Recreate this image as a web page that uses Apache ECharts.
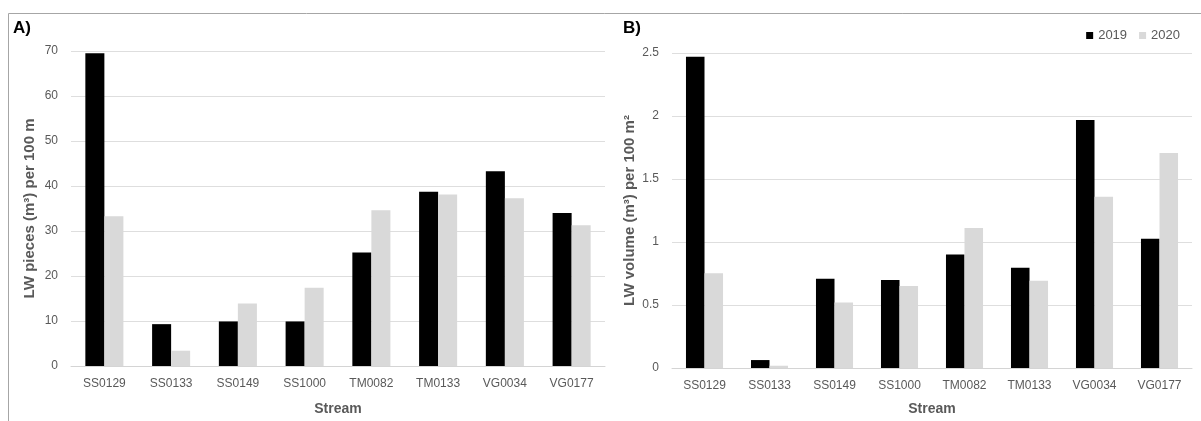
<!DOCTYPE html>
<html>
<head>
<meta charset="utf-8">
<script src="https://cdn.jsdelivr.net/npm/echarts@6/dist/echarts.min.js"></script>
<style>
  html, body { margin: 0; padding: 0; background: #ffffff; }
  #chart { width: 1201px; height: 421px; }
</style>
</head>
<body>
<div id="chart"></div>
<script>
// Streams surveyed
const streams = ['SS0129', 'SS0133', 'SS0149', 'SS1000', 'TM0082', 'TM0133', 'VG0034', 'VG0177'];
const years = ['2019', '2020'];

// A) LW pieces per 100 m
const pieces2019 = [69.5, 9.3, 9.9, 9.9, 25.2, 38.7, 43.3, 34.0];
const pieces2020 = [33.3, 3.4, 13.9, 17.4, 34.6, 38.1, 37.3, 31.3];

// B) LW volume per 100 m²
const volume2019 = [2.47, 0.063, 0.709, 0.698, 0.901, 0.796, 1.968, 1.025];
const volume2020 = [0.751, 0.018, 0.519, 0.651, 1.112, 0.693, 1.359, 1.707];

const FONT = '"Liberation Sans", Arial, sans-serif';
const TEXT_GREY = '#595959';
const GRID_GREY = '#dedede';
const BASE_GREY = '#d4d4d4';
const COL_2019 = '#000000';
const COL_2020 = '#d9d9d9';

function categoryAxis(gridIndex, nameGap) {
  return {
    type: 'category',
    gridIndex: gridIndex,
    data: streams,
    name: 'Stream',
    nameLocation: 'middle',
    nameGap: nameGap,
    nameTextStyle: { fontFamily: FONT, fontSize: 14, fontWeight: 'bold', color: TEXT_GREY },
    axisLine: { show: true, lineStyle: { color: BASE_GREY, width: 1 } },
    axisTick: { show: false },
    axisLabel: { fontFamily: FONT, fontSize: 12, color: TEXT_GREY, margin: 12 }
  };
}

function valueAxis(gridIndex, name, max, interval, nameGap) {
  return {
    type: 'value',
    gridIndex: gridIndex,
    min: 0,
    max: max,
    interval: interval,
    name: name,
    nameLocation: 'middle',
    nameGap: nameGap,
    nameTextStyle: { fontFamily: FONT, fontSize: 15, fontWeight: 'bold', color: TEXT_GREY },
    axisLine: { show: false },
    axisTick: { show: false },
    axisLabel: { fontFamily: FONT, fontSize: 12, color: TEXT_GREY, margin: 13 },
    splitLine: { show: true, lineStyle: { color: GRID_GREY, width: 1 } }
  };
}

function barSeries(name, data, color, axisIndex) {
  return {
    name: name,
    type: 'bar',
    xAxisIndex: axisIndex,
    yAxisIndex: axisIndex,
    data: data,
    barGap: '0%',
    barCategoryGap: '43%',
    itemStyle: { color: color },
    emphasis: { disabled: true },
    animation: false
  };
}

const chart = echarts.init(document.getElementById('chart'), null, { renderer: 'canvas' });

chart.setOption({
  backgroundColor: '#ffffff',
  animation: false,
  grid: [
    { left: 71, right: 596, top: 51, bottom: 54, containLabel: false },
    { left: 672, right: 9, top: 53, bottom: 52, containLabel: false }
  ],
  legend: {
    data: years,
    right: 16,
    top: 24,
    icon: 'rect',
    itemWidth: 7,
    itemHeight: 7,
    itemGap: 12,
    textStyle: { fontFamily: FONT, fontSize: 13, color: TEXT_GREY }
  },
  title: [
    { text: 'A)', left: 8, top: 15, textStyle: { fontFamily: FONT, fontSize: 17, fontWeight: 'bold', color: '#000000' } },
    { text: 'B)', left: 618, top: 15, textStyle: { fontFamily: FONT, fontSize: 17, fontWeight: 'bold', color: '#000000' } }
  ],
  xAxis: [categoryAxis(0, 36), categoryAxis(1, 34)],
  yAxis: [
    valueAxis(0, 'LW pieces (m³) per 100 m', 70, 10, 34),
    valueAxis(1, 'LW volume (m³) per 100 m²', 2.5, 0.5, 35)
  ],
  series: [
    barSeries('2019', pieces2019, COL_2019, 0),
    barSeries('2020', pieces2020, COL_2020, 0),
    barSeries('2019', volume2019, COL_2019, 1),
    barSeries('2020', volume2020, COL_2020, 1)
  ],
  graphic: [
    // frame around the figure: top edge and left edge
    { type: 'line', silent: true, shape: { x1: 8.5, y1: 13.5, x2: 1201, y2: 13.5 }, style: { stroke: '#a6a6a6', lineWidth: 1 } },
    { type: 'line', silent: true, shape: { x1: 8.5, y1: 13.5, x2: 8.5, y2: 421 }, style: { stroke: '#a6a6a6', lineWidth: 1 } }
  ]
});
</script>
</body>
</html>
